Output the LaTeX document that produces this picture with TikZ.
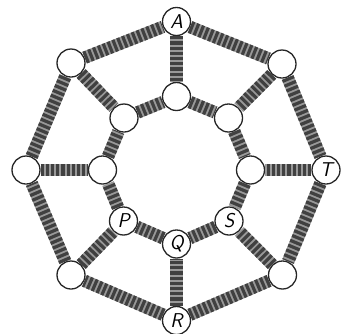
\documentclass[tikz,border=0pt]{standalone}
\begin{document}
\begin{tikzpicture}[x=1pt,y=-1pt,
  vtx/.style={circle,draw=black!85,line width=1.3pt,fill=white,minimum size=28pt,inner sep=0pt,
    font=\fontsize{20}{20}\selectfont\sffamily\itshape},
  base/.style={line width=12.5pt,draw=black!40},
  stripe/.style={line width=12.5pt,draw=black!75,dash pattern=on 3.2pt off 2pt}]
\useasboundingbox (0,0) rectangle (350,333);
% outer ring
\node[vtx] (A)  at (176.5,21.5) {A};
\node[vtx] (o2) at (282,64) {};
\node[vtx] (T)  at (326,170) {T};
\node[vtx] (o4) at (282.5,275) {};
\node[vtx] (R)  at (176.5,320.5) {R};
\node[vtx] (o6) at (71,275) {};
\node[vtx] (o7) at (26,170) {};
\node[vtx] (o8) at (71,63) {};
% inner ring
\node[vtx] (i1) at (176.5,96.5) {};
\node[vtx] (i2) at (228.5,118) {};
\node[vtx] (i3) at (250.5,170) {};
\node[vtx] (S)  at (229,221) {S};
\node[vtx] (Q)  at (176.5,244) {Q};
\node[vtx] (P)  at (123.5,221) {P};
\node[vtx] (i7) at (102.5,170) {};
\node[vtx] (i8) at (124,118) {};
\foreach \a/\b in {A/o2,o2/T,T/o4,o4/R,R/o6,o6/o7,o7/o8,o8/A,
  i1/i2,i2/i3,i3/S,S/Q,Q/P,P/i7,i7/i8,i8/i1,
  A/i1,o2/i2,T/i3,o4/S,R/Q,o6/P,o7/i7,o8/i8}{
  \draw[base] (\a) -- (\b);
  \draw[stripe] (\a) -- (\b);
}
\end{tikzpicture}
\end{document}
